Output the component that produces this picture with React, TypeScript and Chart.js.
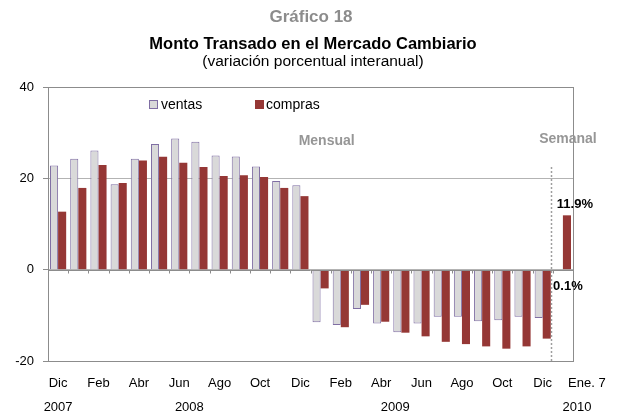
import React, { useEffect, useRef } from "react";
import { Chart, registerables } from "chart.js";

Chart.register(...registerables);

const FONT = "'Liberation Sans', Arial, Helvetica, sans-serif";

const categories = [
  "Dic", "Ene", "Feb", "Mar", "Abr", "May", "Jun", "Jul", "Ago", "Sep", "Oct", "Nov", "Dic",
  "Ene", "Feb", "Mar", "Abr", "May", "Jun", "Jul", "Ago", "Sep", "Oct", "Nov", "Dic", "Ene. 7",
];
const tickLabels = [
  "Dic", "", "Feb", "", "Abr", "", "Jun", "", "Ago", "", "Oct", "", "Dic",
  "", "Feb", "", "Abr", "", "Jun", "", "Ago", "", "Oct", "", "Dic", "Ene. 7",
];
const ventas = [
  22.8, 24.3, 26.1, 18.7, 24.3, 27.5, 28.7, 28.0, 25.0, 24.8, 22.6, 19.4, 18.5,
  -11.5, -12.1, -8.6, -11.8, -13.7, -11.8, -10.3, -10.3, -11.3, -11.1, -10.3, -10.6, 0.1,
];
const compras = [
  12.7, 17.9, 22.9, 19.0, 23.9, 24.7, 23.4, 22.5, 20.5, 20.7, 20.3, 17.9, 16.1,
  -4.1, -12.6, -7.7, -11.4, -13.8, -14.6, -15.8, -16.3, -16.8, -17.3, -16.8, -15.1, 11.9,
];
const yearLabels = ["2007", "2008", "2009", "2010"];
const yearPositions = [0, 6.5, 16.7, 25.7];
const yTicks = [-20, 0, 20, 40];

const VENTAS_FILL = "#D9D9D9";
const VENTAS_BORDER = "#7F6EA3";
const COMPRAS_FILL = "#953735";

const overlay = {
  id: "overlay",
  beforeDatasetsDraw(chart: any) {
    const { ctx, chartArea: a } = chart;
    ctx.save();
    ctx.strokeStyle = "#8C8C8C";
    ctx.lineWidth = 1;
    ctx.strokeRect(Math.round(a.left) + 0.5, Math.round(a.top) + 0.5, Math.round(a.right - a.left), Math.round(a.bottom - a.top));
    ctx.restore();
  },
  afterDatasetsDraw(chart: any) {
    const { ctx, chartArea: a, scales } = chart;
    const x = scales.x;
    const y = scales.y;
    ctx.save();
    const y0 = Math.round(y.getPixelForValue(0)) + 0.5;
    ctx.strokeStyle = "#8C8C8C";
    ctx.lineWidth = 1;
    ctx.beginPath();
    ctx.moveTo(a.left, y0);
    ctx.lineTo(a.right, y0);
    ctx.stroke();
    for (let i = 1; i < categories.length; i++) {
      const px = Math.round(x.getPixelForValue(i - 0.5)) + 0.5;
      ctx.beginPath();
      ctx.moveTo(px, y0);
      ctx.lineTo(px, y0 + 3);
      ctx.stroke();
    }
    const xd = Math.round(x.getPixelForValue(24.4)) + 0.5;
    ctx.strokeStyle = "#7F7F7F";
    ctx.lineWidth = 1.5;
    ctx.setLineDash([1.5, 2.5]);
    ctx.beginPath();
    ctx.moveTo(xd, y.getPixelForValue(22.4));
    ctx.lineTo(xd, a.bottom);
    ctx.stroke();
    ctx.setLineDash([]);
    ctx.restore();
  },
  afterDraw(chart: any) {
    const { ctx, scales } = chart;
    const x = scales.x;
    const y = scales.y;
    ctx.save();
    ctx.textAlign = "center";
    ctx.textBaseline = "middle";
    ctx.fillStyle = "#8C8C8C";
    ctx.font = `bold 17px ${FONT}`;
    ctx.fillText("Gráfico 18", 311, 17);
    ctx.fillStyle = "#000";
    ctx.font = `bold 16.5px ${FONT}`;
    ctx.fillText("Monto Transado en el Mercado Cambiario", 313, 44);
    ctx.font = `15.5px ${FONT}`;
    ctx.fillText("(variación porcentual interanual)", 313, 62);

    ctx.font = `13px ${FONT}`;
    ctx.fillStyle = "#000";
    tickLabels.forEach((t, i) => {
      if (!t) return;
      const off = i === tickLabels.length - 1 ? 24 : 0;
      ctx.fillText(t, x.getPixelForValue(i) + off, 383);
    });
    yearLabels.forEach((t, i) => {
      ctx.fillText(t, x.getPixelForValue(yearPositions[i]), 407);
    });

    ctx.textAlign = "left";
    ctx.font = `14px ${FONT}`;
    ctx.fillStyle = VENTAS_FILL;
    ctx.fillRect(149.5, 100.5, 8, 8);
    ctx.strokeStyle = VENTAS_BORDER;
    ctx.lineWidth = 1;
    ctx.strokeRect(149.5, 100.5, 8, 8);
    ctx.fillStyle = "#000";
    ctx.fillText("ventas", 161, 105);
    ctx.fillStyle = COMPRAS_FILL;
    ctx.fillRect(255, 100, 9, 9);
    ctx.fillStyle = "#000";
    ctx.fillText("compras", 266, 105);

    ctx.textAlign = "center";
    ctx.fillStyle = "#969696";
    ctx.font = `bold 14px ${FONT}`;
    ctx.fillText("Mensual", x.getPixelForValue(13.3), y.getPixelForValue(28.1));
    ctx.fillText("Semanal", x.getPixelForValue(25.25), y.getPixelForValue(28.6));

    ctx.fillStyle = "#000";
    ctx.font = `bold 13px ${FONT}`;
    const last = categories.length - 1;
    ctx.fillText(`${compras[last].toFixed(1)}%`, x.getPixelForValue(last) + 12, y.getPixelForValue(compras[last]) - 11);
    ctx.fillText(`${ventas[last].toFixed(1)}%`, x.getPixelForValue(last) + 5, y.getPixelForValue(0) + 17);
    ctx.restore();
  },
};

export default function App() {
  const ref = useRef<HTMLCanvasElement | null>(null);
  useEffect(() => {
    if (!ref.current) return;
    const chart = new Chart(ref.current, {
      type: "bar",
      data: {
        labels: categories,
        datasets: [
          {
            label: "ventas",
            data: ventas,
            backgroundColor: VENTAS_FILL,
            borderColor: VENTAS_BORDER,
            borderWidth: 1,
          },
          {
            label: "compras",
            data: compras,
            backgroundColor: COMPRAS_FILL,
            borderWidth: 0,
          },
        ],
      },
      options: {
        responsive: false,
        animation: false,
        devicePixelRatio: 1,
        layout: { padding: { top: 87, bottom: 54, right: 46, left: 0 } },
        datasets: { bar: { categoryPercentage: 0.8, barPercentage: 1 } },
        plugins: {
          legend: { display: false },
          title: { display: false },
          tooltip: { enabled: false },
        },
        scales: {
          x: {
            grid: { display: false },
            border: { display: false },
            ticks: { display: false },
            afterFit: (s: any) => {
              s.height = 0;
            },
          },
          y: {
            min: -20,
            max: 40,
            afterBuildTicks: (s: any) => {
              s.ticks = yTicks.map((v) => ({ value: v }));
            },
            ticks: {
              font: { family: FONT, size: 13 },
              color: "#000",
              padding: 9,
            },
            grid: {
              color: "#B3B3B3",
              tickLength: 5,
              tickColor: "#8C8C8C",
            },
            border: { display: true, color: "#8C8C8C" },
            afterFit: (s: any) => {
              s.width = 48;
            },
          },
        },
      },
      plugins: [overlay],
    } as any);
    return () => chart.destroy();
  }, []);
  return (
    <div style={{ position: "absolute", left: 0, top: 0, width: 619, height: 415, background: "#fff" }}>
      <canvas ref={ref} width={619} height={415} />
    </div>
  );
}
